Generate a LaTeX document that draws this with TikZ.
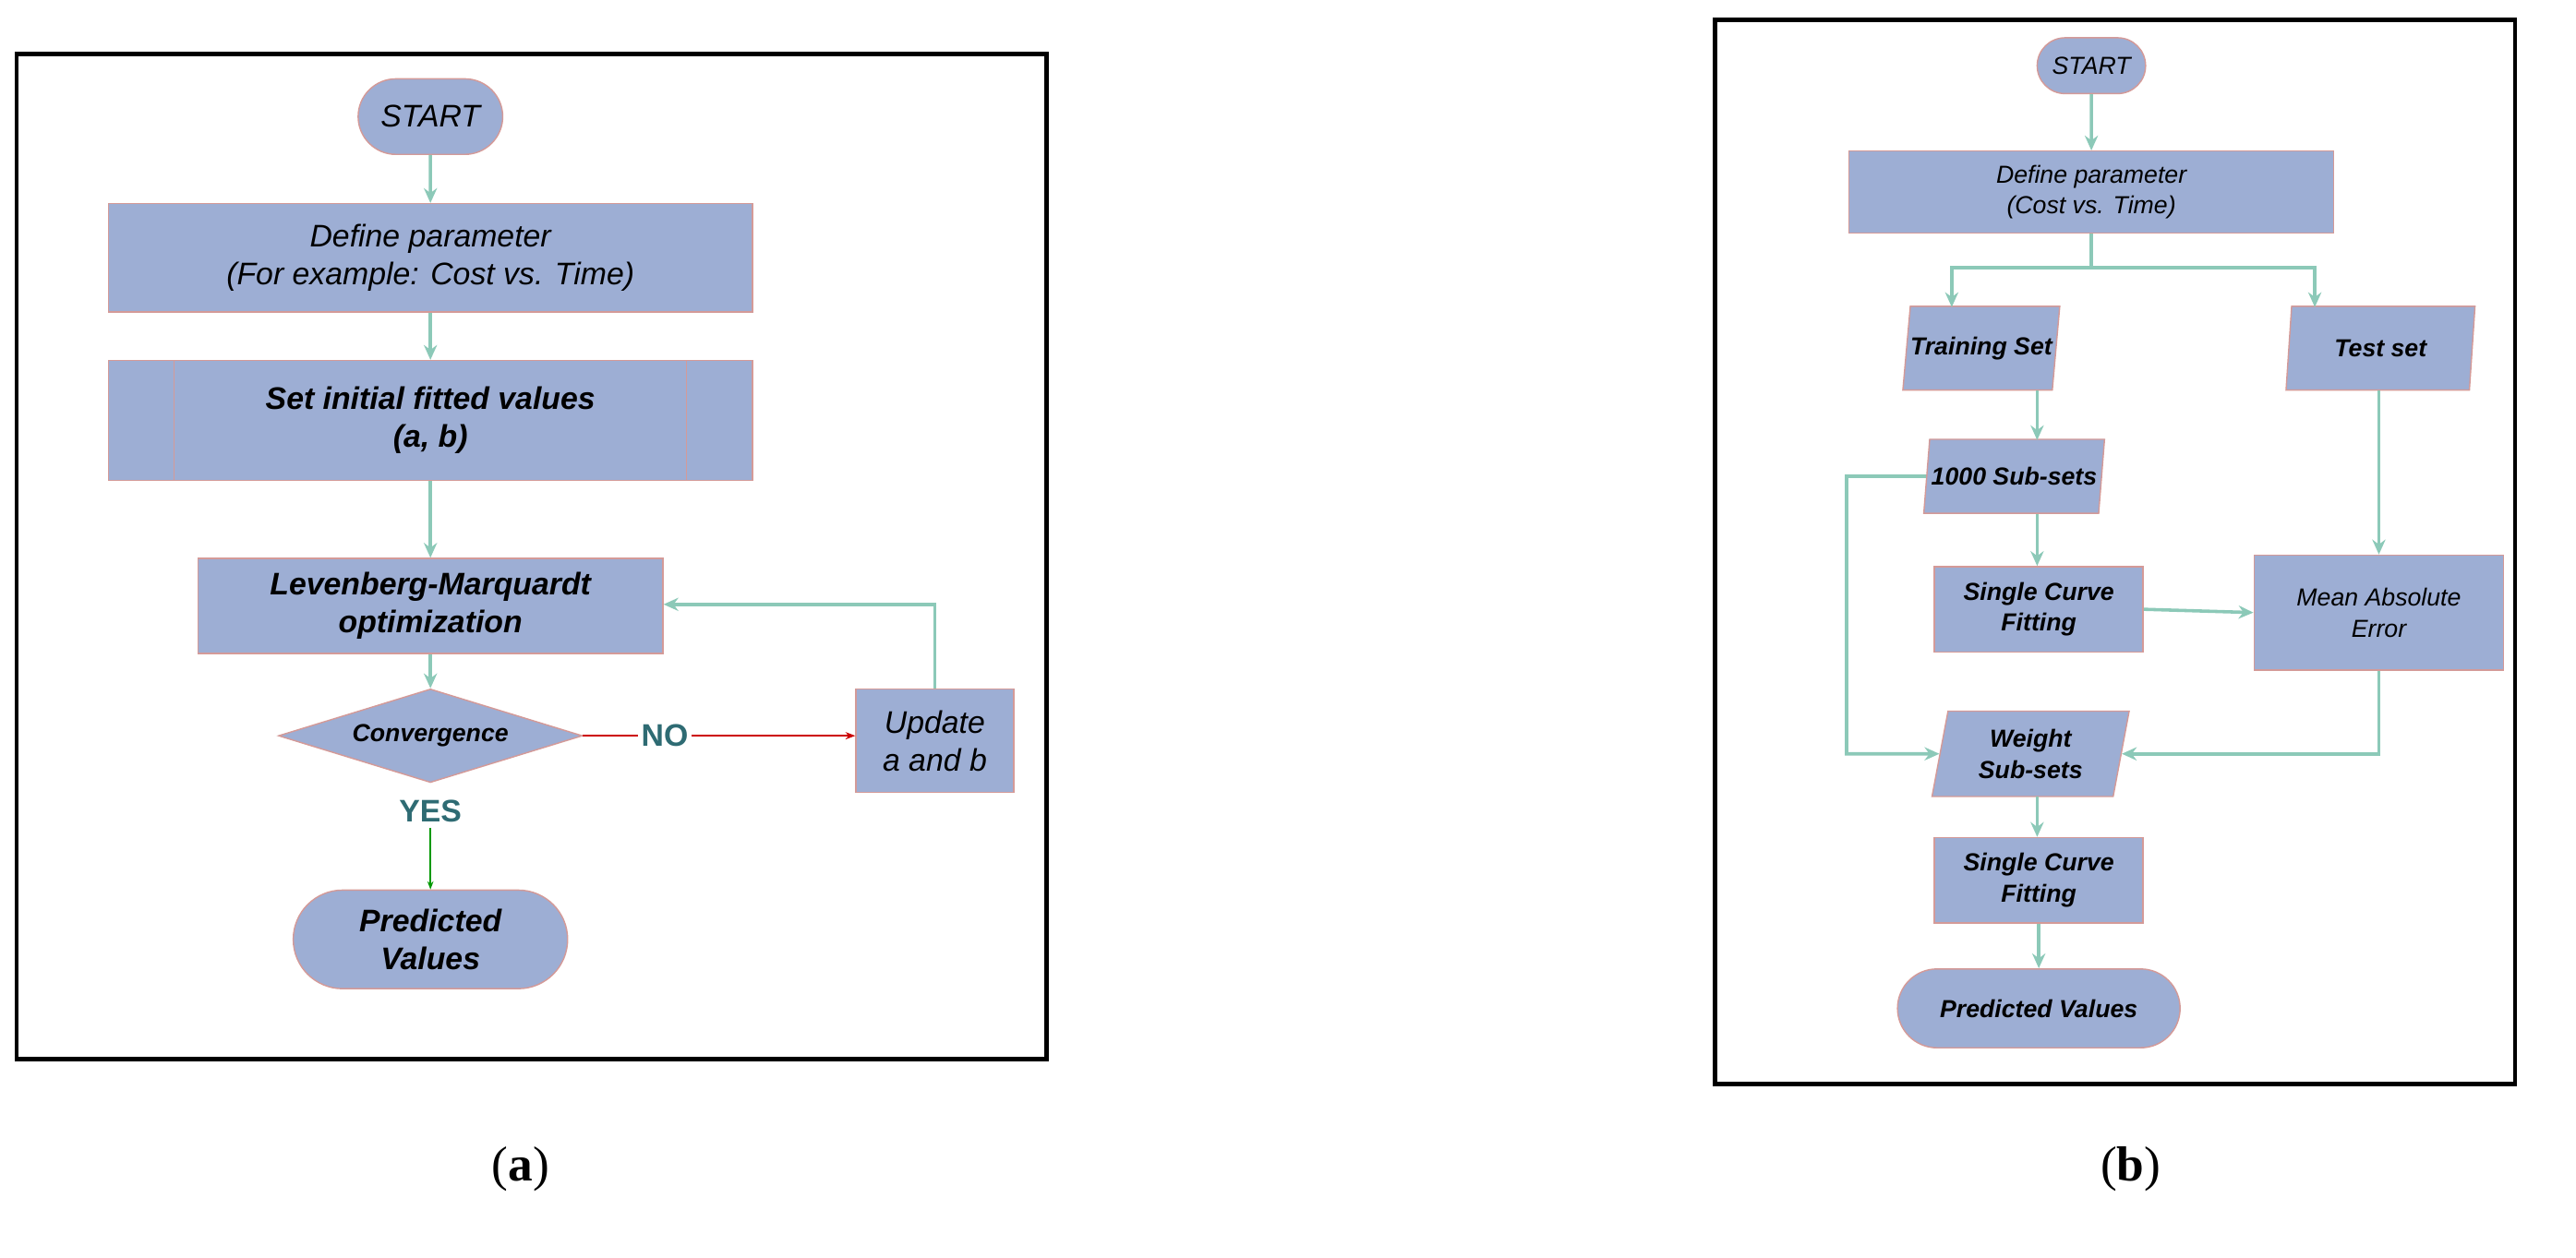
\documentclass[tikz,border=0pt]{standalone}
\usepackage{fontspec}
\setmainfont{Liberation Sans}
\newfontfamily\serifb{Liberation Serif}
\usetikzlibrary{shapes.geometric,shapes.misc,arrows.meta}
\definecolor{bfill}{HTML}{9DAED4}
\definecolor{bdraw}{HTML}{D49A98}
\definecolor{teal}{HTML}{8CC9B8}
\definecolor{dteal}{HTML}{2E6B73}
\begin{document}
\begin{tikzpicture}[x=1pt,y=-1pt,
 box/.style={draw=bdraw,fill=bfill,line width=0.8pt,inner sep=0pt,align=center,font=\itshape},
 term/.style={box,rounded rectangle},
 para/.style={box,trapezium,trapezium left angle=72,trapezium right angle=108,trapezium stretches body},
 arr/.style={teal,line width=2pt,-{Stealth[length=9pt,width=8pt]}},
 ln/.style={teal,line width=2pt},
 L/.style={font=\fontsize{19}{23}\selectfont\itshape},
 LB/.style={font=\fontsize{19}{23}\selectfont\bfseries\itshape},
 R/.style={font=\fontsize{15}{19}\selectfont\itshape},
 RB/.style={font=\fontsize{15}{19}\selectfont\bfseries\itshape}]
\useasboundingbox (0,0) rectangle (1568,766);
\fill[white] (0,0) rectangle (1568,766);
\draw[line width=2.5pt] (10,33) rectangle (637,645);
\draw[line width=2.5pt] (1044,12) rectangle (1531,660);
% left
\node[term,L,minimum width=88,minimum height=46] (s1) at (262,71) {START};
\node[box,L,minimum width=392,minimum height=66] (d1) at (262,157) {Define parameter\\(For example: Cost vs. Time)};
\node[box,LB,minimum width=392,minimum height=73] (i1) at (262,256) {Set initial fitted values\\(a, b)};
\draw[bdraw] (106,220) -- (106,293) (418,220) -- (418,293);
\node[box,LB,minimum width=283,minimum height=58] (lm) at (262,369) {Levenberg-Marquardt\\optimization};
\node[box,diamond,aspect=3.2,minimum width=185,minimum height=57,font=\fontsize{15}{18}\selectfont\bfseries\itshape] (cv) at (262,448) {Convergence};
\node[box,L,minimum width=96,minimum height=63] (up) at (569,451) {Update\\a and b};
\node[term,LB,minimum width=167,minimum height=60] (pv) at (262,572) {Predicted\\Values};
\draw[arr] (s1) -- (d1);
\draw[arr] (d1) -- (i1);
\draw[arr] (i1) -- (lm);
\draw[arr] (lm) -- (cv);
\draw[red!80!black,line width=0.8pt,-{Stealth[length=6pt]}] (cv.east) -- (cv.east -| up.west)
  node[pos=0.3,fill=white,inner sep=2pt,text=dteal,font=\fontsize{19}{22}\selectfont\bfseries] (no) {NO};
\draw[arr] (up.north) |- (lm.east |- 0,368);
\node[text=dteal,font=\fontsize{19}{22}\selectfont\bfseries] (yes) at (262,494) {YES};
\draw[green!60!black,line width=0.8pt,-{Stealth[length=5pt]}] (yes.south) -- (pv.north);
% right
\node[term,R,minimum width=66,minimum height=34] (s2) at (1273,40) {START};
\node[box,R,minimum width=295,minimum height=50] (d2) at (1273,117) {Define parameter\\(Cost vs. Time)};
\node[para,RB,minimum width=90,minimum height=51] (tr) at (1206,212) {Training Set};
\node[para,RB,minimum width=115,minimum height=51] (te) at (1449,212) {Test set};
\node[para,RB,minimum width=110,minimum height=45] (ss) at (1226,290) {1000 Sub-sets};
\node[box,RB,minimum width=127,minimum height=52] (sc) at (1241,371) {Single Curve\\Fitting};
\node[box,R,minimum width=152,minimum height=70] (ma) at (1448,373) {Mean Absolute\\Error};
\node[para,RB,minimum width=120,minimum height=52] (ws) at (1236,459) {Weight\\Sub-sets};
\node[box,RB,minimum width=127,minimum height=52] (sc2) at (1241,536) {Single Curve\\Fitting};
\node[term,RB,minimum width=172,minimum height=48] (pv2) at (1241,614) {Predicted Values};
\coordinate (sp) at (1273,163);
\draw[arr] (s2) -- (d2);
\draw[ln] (d2.south) -- (sp);
\draw[arr] (1188,163) -- (1188,187);
\draw[arr] (1409,163) -- (1409,187);
\draw[ln] (1187,163) -- (1410,163);
\draw[arr] (1240,238) -- (1240,268);
\draw[arr] (1240,313) -- (sc.north -| 1240,0);
\draw[arr] (sc.east) -- (ma.west);
\draw[arr] (1448,238) -- (ma.north);
\draw[arr] (ss.west) -- (1124,290) |- (ws.west);
\draw[arr] (ma.south) |- (ws.east);
\draw[arr] (1240,485) -- (sc2.north -| 1240,0);
\draw[arr] (sc2) -- (pv2);
\node[font=\serifb\fontsize{30}{34}\selectfont] (la) at (317,712) {(\textbf{a})};
\node[font=\serifb\fontsize{30}{34}\selectfont] (lb) at (1297,712) {(\textbf{b})};
\end{tikzpicture}
\end{document}
